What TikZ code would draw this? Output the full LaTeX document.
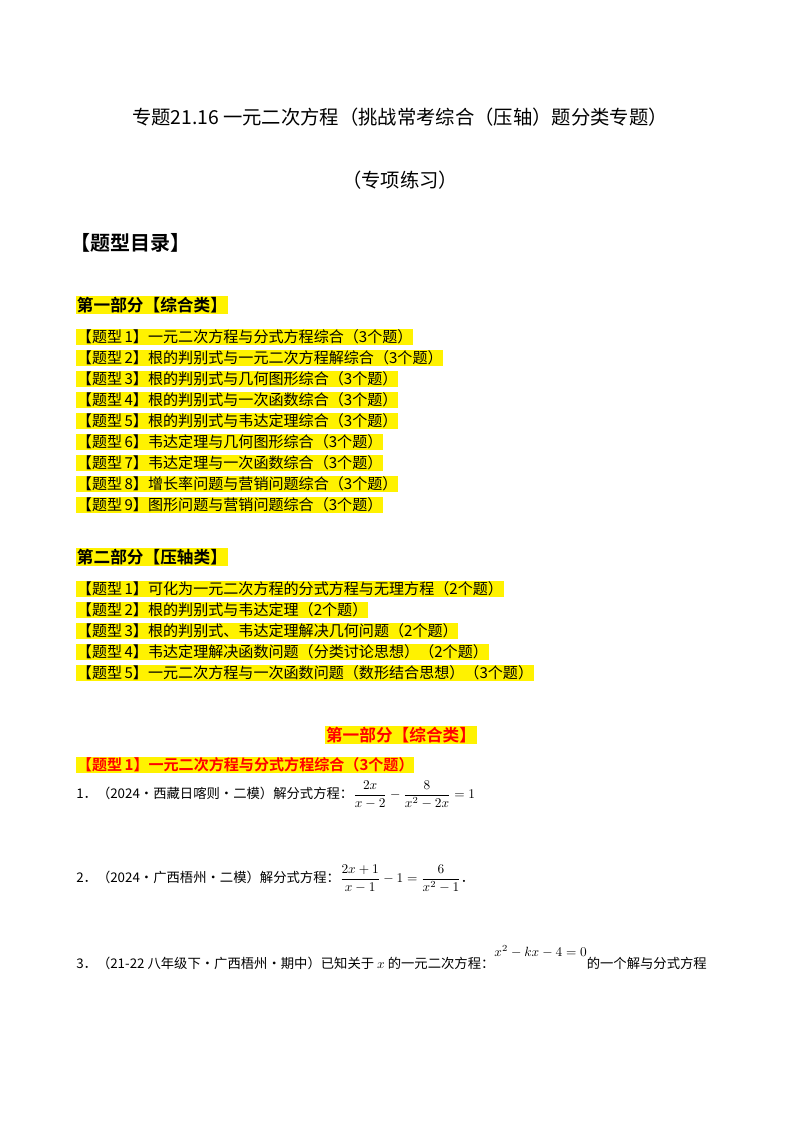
\documentclass[tikz,border=0pt]{standalone}
\usepackage{amsmath}
\usepackage{fontspec}
\newfontfamily\cjk{Noto Sans CJK SC}
\newfontfamily\cjkb{Noto Sans CJK SC Bold}
\begin{document}
\begin{tikzpicture}[x=0.75pt,y=-0.75pt,
  hl/.style={anchor=west,fill=yellow,inner sep=0.5pt,font=\cjk\fontsize{11.3}{13}\selectfont},
  hd/.style={anchor=west,fill=yellow,inner sep=0.5pt,font=\cjkb\fontsize{12.5}{14}\selectfont},
  body/.style={anchor=west,inner sep=0pt,font=\cjk\fontsize{10}{12}\selectfont}]
\useasboundingbox[fill=white] (0,0) rectangle (800,1132);
\node[font=\cjk\fontsize{14.5}{17}\selectfont] (t1) at (400,117) {专题21.16 一元二次方程（挑战常考综合（压轴）题分类专题）};
\node[font=\cjk\fontsize{14.5}{17}\selectfont] (t2) at (400,180) {（专项练习）};
\node[anchor=west,font=\cjkb\fontsize{15}{17}\selectfont] (t3) at (66,243) {【题型目录】};
\node[hd] (p1) at (76,305) {第一部分【综合类】};
\foreach \i/\t [count=\k] in {1/一元二次方程与分式方程综合（3个题）,2/根的判别式与一元二次方程解综合（3个题）,3/根的判别式与几何图形综合（3个题）,4/根的判别式与一次函数综合（3个题）,5/根的判别式与韦达定理综合（3个题）,6/韦达定理与几何图形综合（3个题）,7/韦达定理与一次函数综合（3个题）,8/增长率问题与营销问题综合（3个题）,9/图形问题与营销问题综合（3个题）}
  \node[hl] (a\k) at (76,{337+21*(\k-1)}) {【题型\,\i】\t};
\node[hd] (p2) at (76,557) {第二部分【压轴类】};
\foreach \i/\t [count=\k] in {1/可化为一元二次方程的分式方程与无理方程（2个题）,2/根的判别式与韦达定理（2个题）,3/根的判别式、韦达定理解决几何问题（2个题）,4/韦达定理解决函数问题（分类讨论思想）（2个题）,5/一元二次方程与一次函数问题（数形结合思想）（3个题）}
  \node[hl] (b\k) at (76,{589+21*(\k-1)}) {【题型\,\i】\t};
\node[hd,anchor=center,text=red] (p3) at (401,735) {第一部分【综合类】};
\node[hl,text=red,font=\cjkb\fontsize{11.3}{13}\selectfont] (c1) at (76,765) {【题型\,1】一元二次方程与分式方程综合（3个题）};
\node[body] (q1) at (76,795) {1．（2024·西藏日喀则·二模）解分式方程：$\dfrac{2x}{x-2}-\dfrac{8}{x^2-2x}=1$};
\node[body] (q2) at (76,879) {2．（2024·广西梧州·二模）解分式方程：$\dfrac{2x+1}{x-1}-1=\dfrac{6}{x^2-1}$．};
\node[body] (q3) at (76,958) {3．（21-22 八年级下·广西梧州·期中）已知关于 $x$ 的一元二次方程：\raisebox{9pt}{$x^2-kx-4=0$}的一个解与分式方程};
\end{tikzpicture}
\end{document}
